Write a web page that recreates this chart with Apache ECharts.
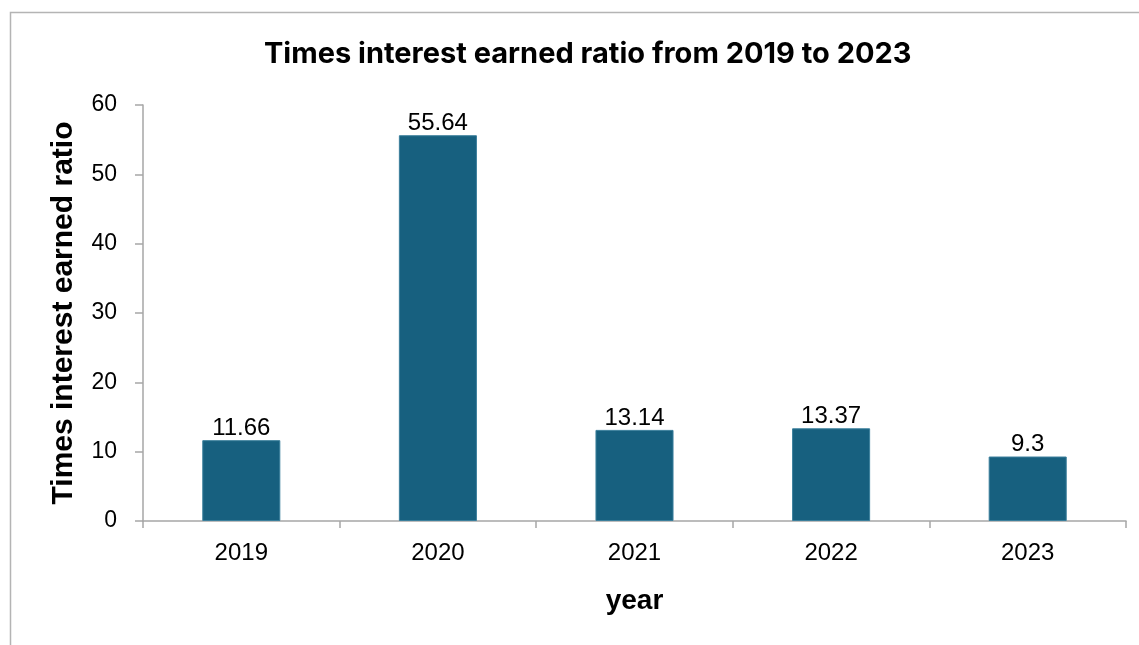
<!DOCTYPE html>
<html>
<head>
<meta charset="utf-8">
<script src="https://cdn.jsdelivr.net/npm/echarts@6/dist/echarts.min.js"></script>
<style>
  html, body { margin: 0; padding: 0; background: #ffffff; }
  #chart { width: 1139px; height: 645px; }
</style>
</head>
<body>
<div id="chart"></div>
<script>
// Times interest earned ratio by fiscal year
const years = ['2019', '2020', '2021', '2022', '2023'];
const ratios = [11.66, 55.64, 13.14, 13.37, 9.3];
const yTicks = [0, 10, 20, 30, 40, 50, 60];

const axisGray = '#a6a6a6';
const barBlue = '#17607f';

const chart = echarts.init(document.getElementById('chart'), null, { renderer: 'canvas' });

chart.setOption({
  animation: false,
  backgroundColor: '#ffffff',
  title: {
    text: 'Times interest earned ratio from 2019 to 2023',
    left: 259,
    top: 35,
    textStyle: {
      fontFamily: 'Inter',
      fontWeight: 'bold',
      fontSize: 29,
      color: '#000000'
    }
  },
  graphic: [{
    type: 'rect',
    shape: { x: 10.5, y: 12.5, width: 1400, height: 900 },
    style: { fill: null, stroke: '#b4b4b4', lineWidth: 1.5 },
    silent: true,
    z: -1
  }],
  grid: {
    left: 143,
    right: 13,
    top: 105,
    bottom: 124,
    containLabel: false
  },
  xAxis: {
    type: 'category',
    data: years,
    name: 'year',
    nameLocation: 'middle',
    nameGap: 66,
    nameTextStyle: {
      fontFamily: 'Liberation Sans',
      fontWeight: 'bold',
      fontSize: 28,
      color: '#000000'
    },
    axisLine: { show: true, lineStyle: { color: axisGray, width: 1.5 } },
    axisTick: { show: true, alignWithLabel: false, length: 7, lineStyle: { color: axisGray, width: 1.5 } },
    axisLabel: {
      margin: 20,
      fontFamily: 'Liberation Sans',
      fontSize: 24,
      color: '#000000'
    },
    splitLine: { show: false }
  },
  yAxis: {
    type: 'value',
    min: yTicks[0],
    max: yTicks[yTicks.length - 1],
    interval: yTicks[1] - yTicks[0],
    name: 'Times interest earned ratio',
    nameLocation: 'middle',
    nameGap: 64,
    nameRotate: 90,
    nameTextStyle: {
      fontFamily: 'Liberation Sans',
      fontWeight: 'bold',
      fontSize: 30,
      color: '#000000'
    },
    axisLine: { show: true, lineStyle: { color: axisGray, width: 1.5 } },
    axisTick: { show: true, length: 8, lineStyle: { color: axisGray, width: 1.5 } },
    axisLabel: {
      margin: 26,
      fontFamily: 'Liberation Sans',
      fontSize: 23,
      color: '#000000'
    },
    splitLine: { show: false }
  },
  series: [{
    type: 'bar',
    data: ratios,
    barWidth: '39.7%',
    itemStyle: {
      color: barBlue,
      borderColor: '#3b7f9c',
      borderWidth: 1
    },
    label: {
      show: true,
      position: 'top',
      distance: 0,
      fontFamily: 'Liberation Sans',
      fontSize: 24,
      color: '#000000'
    }
  }]
});
</script>
</body>
</html>
